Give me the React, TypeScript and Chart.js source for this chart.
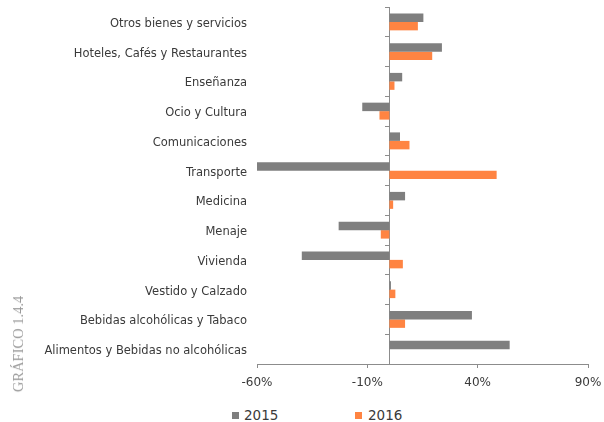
import React, { useEffect, useRef } from "react";
import { Chart, registerables } from "chart.js";

Chart.register(...registerables);

const categories = [
  "Otros bienes y servicios",
  "Hoteles, Cafés y Restaurantes",
  "Enseñanza",
  "Ocio y Cultura",
  "Comunicaciones",
  "Transporte",
  "Medicina",
  "Menaje",
  "Vivienda",
  "Vestido y Calzado",
  "Bebidas alcohólicas y Tabaco",
  "Alimentos y Bebidas no alcohólicas",
];
const series2015 = [15.4, 23.8, 5.8, -12.3, 4.8, -60, 7.1, -23, -39.7, 0.7, 37.4, 54.5];
const series2016 = [12.9, 19.4, 2.3, -4.5, 9.1, 48.6, 1.7, -3.9, 6.1, 2.7, 7.1, null];
const xTickValues = [-60, -10, 40, 90];
const seriesNames = ["2015", "2016"];
const seriesColors = ["#7F7F7F", "#FF8442"];
const chartTitle = "GRÁFICO 1.4.4";

const FONT = "'DejaVu Sans', Verdana, sans-serif";
const AXIS_COLOR = "#8C8C8C";
const TEXT_COLOR = "#3A3A3A";

export default function App() {
  const canvasRef = useRef<HTMLCanvasElement | null>(null);

  useEffect(() => {
    if (!canvasRef.current) return;
    Chart.defaults.font.family = FONT;
    const chart = new Chart(canvasRef.current, {
      type: "bar",
      data: {
        labels: categories,
        datasets: [
          {
            label: seriesNames[0],
            data: series2015,
            backgroundColor: seriesColors[0],
            xAxisID: "x",
            yAxisID: "y",
            categoryPercentage: 0.57,
            barPercentage: 1.0,
          },
          {
            label: seriesNames[1],
            data: series2016,
            backgroundColor: seriesColors[1],
            xAxisID: "x",
            yAxisID: "y",
            categoryPercentage: 0.57,
            barPercentage: 1.0,
          },
        ],
      },
      options: {
        indexAxis: "y",
        responsive: false,
        animation: false,
        events: [],
        layout: { padding: { top: 7, right: 16, bottom: 0, left: 0 } },
        plugins: {
          legend: { display: false },
          tooltip: { enabled: false },
          title: { display: false },
        },
        scales: {
          x: {
            type: "linear",
            position: "bottom",
            min: -60,
            max: 90,
            afterBuildTicks: (s: any) => {
              s.ticks = xTickValues.map((v) => ({ value: v }));
            },
            afterFit: (s: any) => {
              s.height = 36;
              s.paddingLeft = 0;
              s.paddingRight = 0;
            },
            ticks: {
              callback: (v: any) => `${v}%`,
              font: { size: 12, family: FONT },
              color: TEXT_COLOR,
              padding: 8,
              maxRotation: 0,
            },
            grid: {
              display: true,
              drawOnChartArea: false,
              drawTicks: true,
              tickLength: 4,
              color: AXIS_COLOR,
            },
            border: { display: true, color: AXIS_COLOR, width: 1 },
          },
          y: {
            type: "category",
            position: "left",
            afterFit: (s: any) => {
              s.width = 257;
              s.paddingTop = 0;
              s.paddingBottom = 0;
            },
            ticks: {
              font: { size: 11.5, family: FONT },
              color: TEXT_COLOR,
              padding: 10,
              labelOffset: 2,
              autoSkip: false,
            },
            grid: { display: false, drawTicks: false },
            border: { display: false },
          },
          y2: {
            type: "category",
            labels: categories,
            position: { x: 0 } as any,
            offset: true,
            afterFit: (s: any) => {
              s.paddingTop = 0;
              s.paddingBottom = 0;
              s.paddingLeft = 0;
              s.paddingRight = 0;
            },
            ticks: { display: false },
            grid: {
              display: true,
              offset: true,
              drawOnChartArea: false,
              drawTicks: true,
              tickLength: 4,
              color: AXIS_COLOR,
            },
            border: { display: true, color: AXIS_COLOR, width: 1 },
          },
        },
      } as any,
    });
    return () => chart.destroy();
  }, []);

  const legendText: React.CSSProperties = {
    position: "absolute",
    top: 407,
    fontFamily: FONT,
    fontSize: 13.5,
    lineHeight: "16px",
    color: TEXT_COLOR,
    whiteSpace: "nowrap",
  };
  const legendBox = (left: number, color: string): React.CSSProperties => ({
    position: "absolute",
    left,
    top: 412,
    width: 7,
    height: 7,
    background: color,
  });

  return (
    <div
      style={{
        position: "absolute",
        left: 0,
        top: 0,
        width: 604,
        height: 422,
        overflow: "hidden",
        background: "#FFFFFF",
      }}
    >
      <canvas
        ref={canvasRef}
        width={604}
        height={400}
        style={{ position: "absolute", left: 0, top: 0, display: "block" }}
      />
      <div
        style={{
          position: "absolute",
          left: 18,
          top: 344,
          transform: "translate(-50%, -50%) rotate(-90deg)",
          fontFamily: "'Liberation Serif', 'Times New Roman', serif",
          fontSize: 14.5,
          color: "#9A9A9A",
          whiteSpace: "nowrap",
          lineHeight: "16px",
        }}
      >
        {chartTitle}
      </div>
      <div style={legendBox(232, seriesColors[0])} />
      <div style={{ ...legendText, left: 244 }}>{seriesNames[0]}</div>
      <div style={legendBox(355, seriesColors[1])} />
      <div style={{ ...legendText, left: 368 }}>{seriesNames[1]}</div>
    </div>
  );
}
